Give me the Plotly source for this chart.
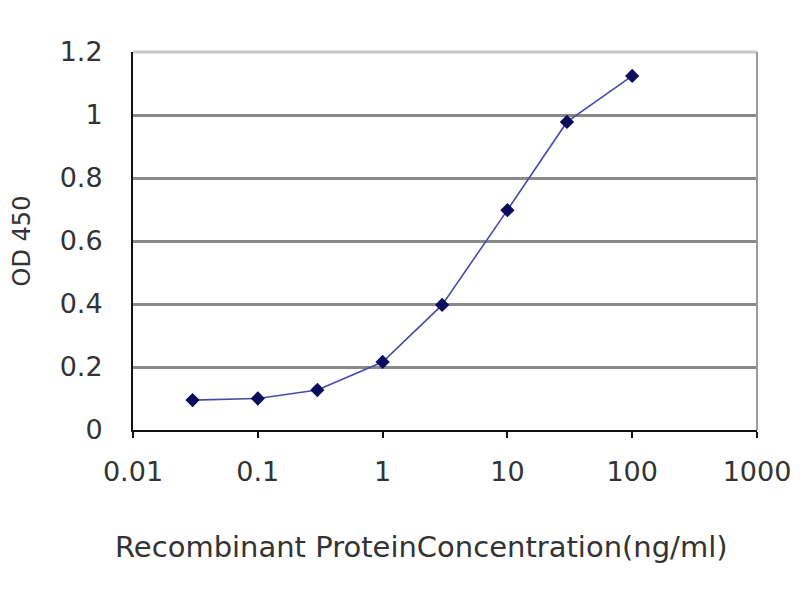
import plotly.graph_objects as go

# ELISA standard curve
concentration = [0.03, 0.1, 0.3, 1, 3, 10, 30, 100]
od450 = [0.095, 0.10, 0.127, 0.216, 0.397, 0.698, 0.978, 1.124]

x_tickvals = [0.01, 0.1, 1, 10, 100, 1000]
x_ticktext = ["0.01", "0.1", "1", "10", "100", "1000"]
y_tickvals = [0, 0.2, 0.4, 0.6, 0.8, 1, 1.2]

fig = go.Figure()
fig.add_trace(go.Scatter(
    x=concentration, y=od450, mode="lines+markers",
    line=dict(color="#4a4aa8", width=1.6),
    marker=dict(symbol="diamond", size=11, color="#0c0c5c"),
    showlegend=False,
))

# page has an 8px body margin, so the figure is 784x584
fig.update_layout(
    width=784, height=584,
    margin=dict(l=125, r=35, t=44, b=162),
    plot_bgcolor="white", paper_bgcolor="white",
    font=dict(family="DejaVu Sans, Arial, sans-serif", color="#333"),
    xaxis=dict(
        type="log", range=[-2, 3], automargin=False,
        tickvals=x_tickvals, ticktext=x_ticktext,
        showgrid=False, zeroline=False,
        showline=True, linecolor="#111", linewidth=2,
        ticks="outside", ticklen=6, tickwidth=2, tickcolor="#111",
        ticklabelstandoff=11, tickfont=dict(size=27),
    ),
    yaxis=dict(
        range=[0, 1.2], tickvals=y_tickvals, automargin=False,
        showgrid=True, gridcolor="#8a8a8a", gridwidth=3,
        zeroline=False,
        showline=True, linecolor="#111", linewidth=2,
        ticks="", ticklabelstandoff=23, tickfont=dict(size=27),
        title=dict(text="OD 450", font=dict(size=24), standoff=27),
    ),
)

# x title sits a bit left of the plot centre in the original
fig.add_annotation(text="Recombinant ProteinConcentration(ng/ml)",
                   xref="paper", yref="paper", x=0.462, y=-0.31,
                   xanchor="center", yanchor="middle", showarrow=False,
                   font=dict(size=29, color="#333"))

# light frame on top and right like the original
fig.add_shape(type="line", xref="paper", yref="paper", x0=0, x1=1, y0=1, y1=1,
              line=dict(color="#c8c8c8", width=3), layer="above")
fig.add_shape(type="line", xref="paper", yref="paper", x0=1, x1=1, y0=0, y1=1,
              line=dict(color="#9a9a9a", width=2), layer="above")

fig.write_html("out.html")
